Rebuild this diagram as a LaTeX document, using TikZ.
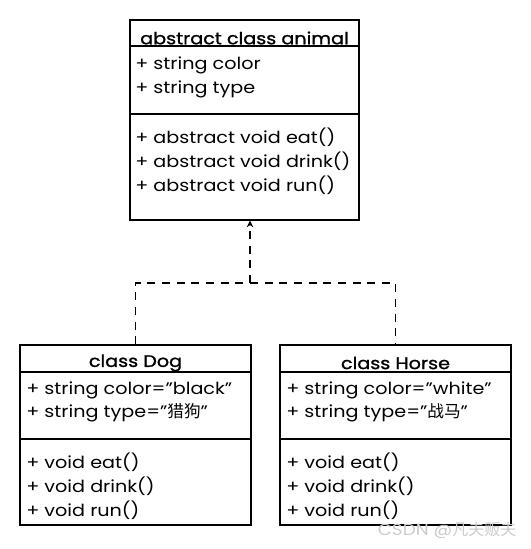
\documentclass[tikz,border=0pt]{standalone}
\usepackage{fontspec}
\setmainfont[FakeStretch=1.15]{Poppins}
\newfontfamily\ttlfont[FakeStretch=1.15,FakeBold=1.2]{Poppins}
\newfontfamily\cjk{Noto Sans CJK SC}
\usetikzlibrary{arrows.meta}
\tikzset{
  box/.style={draw, line width=0.9pt, inner sep=0pt},
  sep/.style={line width=0.9pt},
  txt/.style={anchor=west, inner sep=0pt, font=\fontsize{12.5}{14}\selectfont},
  ttl/.style={inner sep=0pt, font=\fontsize{12.5}{14}\selectfont\ttlfont},
  conn/.style={line width=0.9pt, dash pattern=on 6pt off 5pt},
}
\begin{document}
\begin{tikzpicture}[x=0.75pt,y=-0.75pt]
\useasboundingbox (0,0) rectangle (531,549);
% boxes
\node (animal) [box, minimum width=171.75pt, minimum height=150pt] at (244.5,120) {};
\node (dog) [box, minimum width=173.25pt, minimum height=135pt] at (135.5,435) {};
\node (horse) [box, minimum width=173.25pt, minimum height=135pt] at (395.5,435) {};
% separators
\draw[sep] (130,46) -- (359,46);
\draw[sep] (130,114) -- (359,114);
\draw[sep] (20,372) -- (251,372);
\draw[sep] (20,439) -- (251,439);
\draw[sep] (280,372) -- (511,372);
\draw[sep] (280,439) -- (511,439);
% animal texts
\node (at) [ttl] at (244.5,38) {abstract class animal};
\node (a1) [txt] at (135,65) {+ string color};
\node (a2) [txt] at (135,89) {+ string type};
\node (a3) [txt] at (135,137) {+ abstract void eat()};
\node (a4) [txt] at (135,161) {+ abstract void drink()};
\node (a5) [txt] at (135,185) {+ abstract void run()};
% dog texts
\node (dt) [ttl] at (135.5,363) {class Dog};
\node (d1) [txt] at (26,390) {+ string color="black"};
\node (d2) [txt] at (26,413) {+ string type="{\cjk 猎狗}"};
\node (d3) [txt] at (26,462) {+ void eat()};
\node (d4) [txt] at (26,486) {+ void drink()};
\node (d5) [txt] at (26,510) {+ void run()};
% horse texts
\node (ht) [ttl] at (395.5,363) {class Horse};
\node (h1) [txt] at (286,390) {+ string color="white"};
\node (h2) [txt] at (286,413) {+ string type="{\cjk 战马}"};
\node (h3) [txt] at (286,462) {+ void eat()};
\node (h4) [txt] at (286,486) {+ void drink()};
\node (h5) [txt] at (286,510) {+ void run()};
% connectors
\coordinate (j) at (250,283);
\draw[conn] (dog.north) -- (dog.north |- j) -- (horse.north |- j) -- (horse.north);
\draw[conn, -{Stealth[length=5pt,width=5pt]}] (j) -- (j |- animal.south);
% watermark
\node (wm) [inner sep=0pt, text=black!20, font=\fontsize{12}{14}\selectfont] at (447,530) {CSDN @{\cjk 凡夫贩夫}};
\end{tikzpicture}
\end{document}
